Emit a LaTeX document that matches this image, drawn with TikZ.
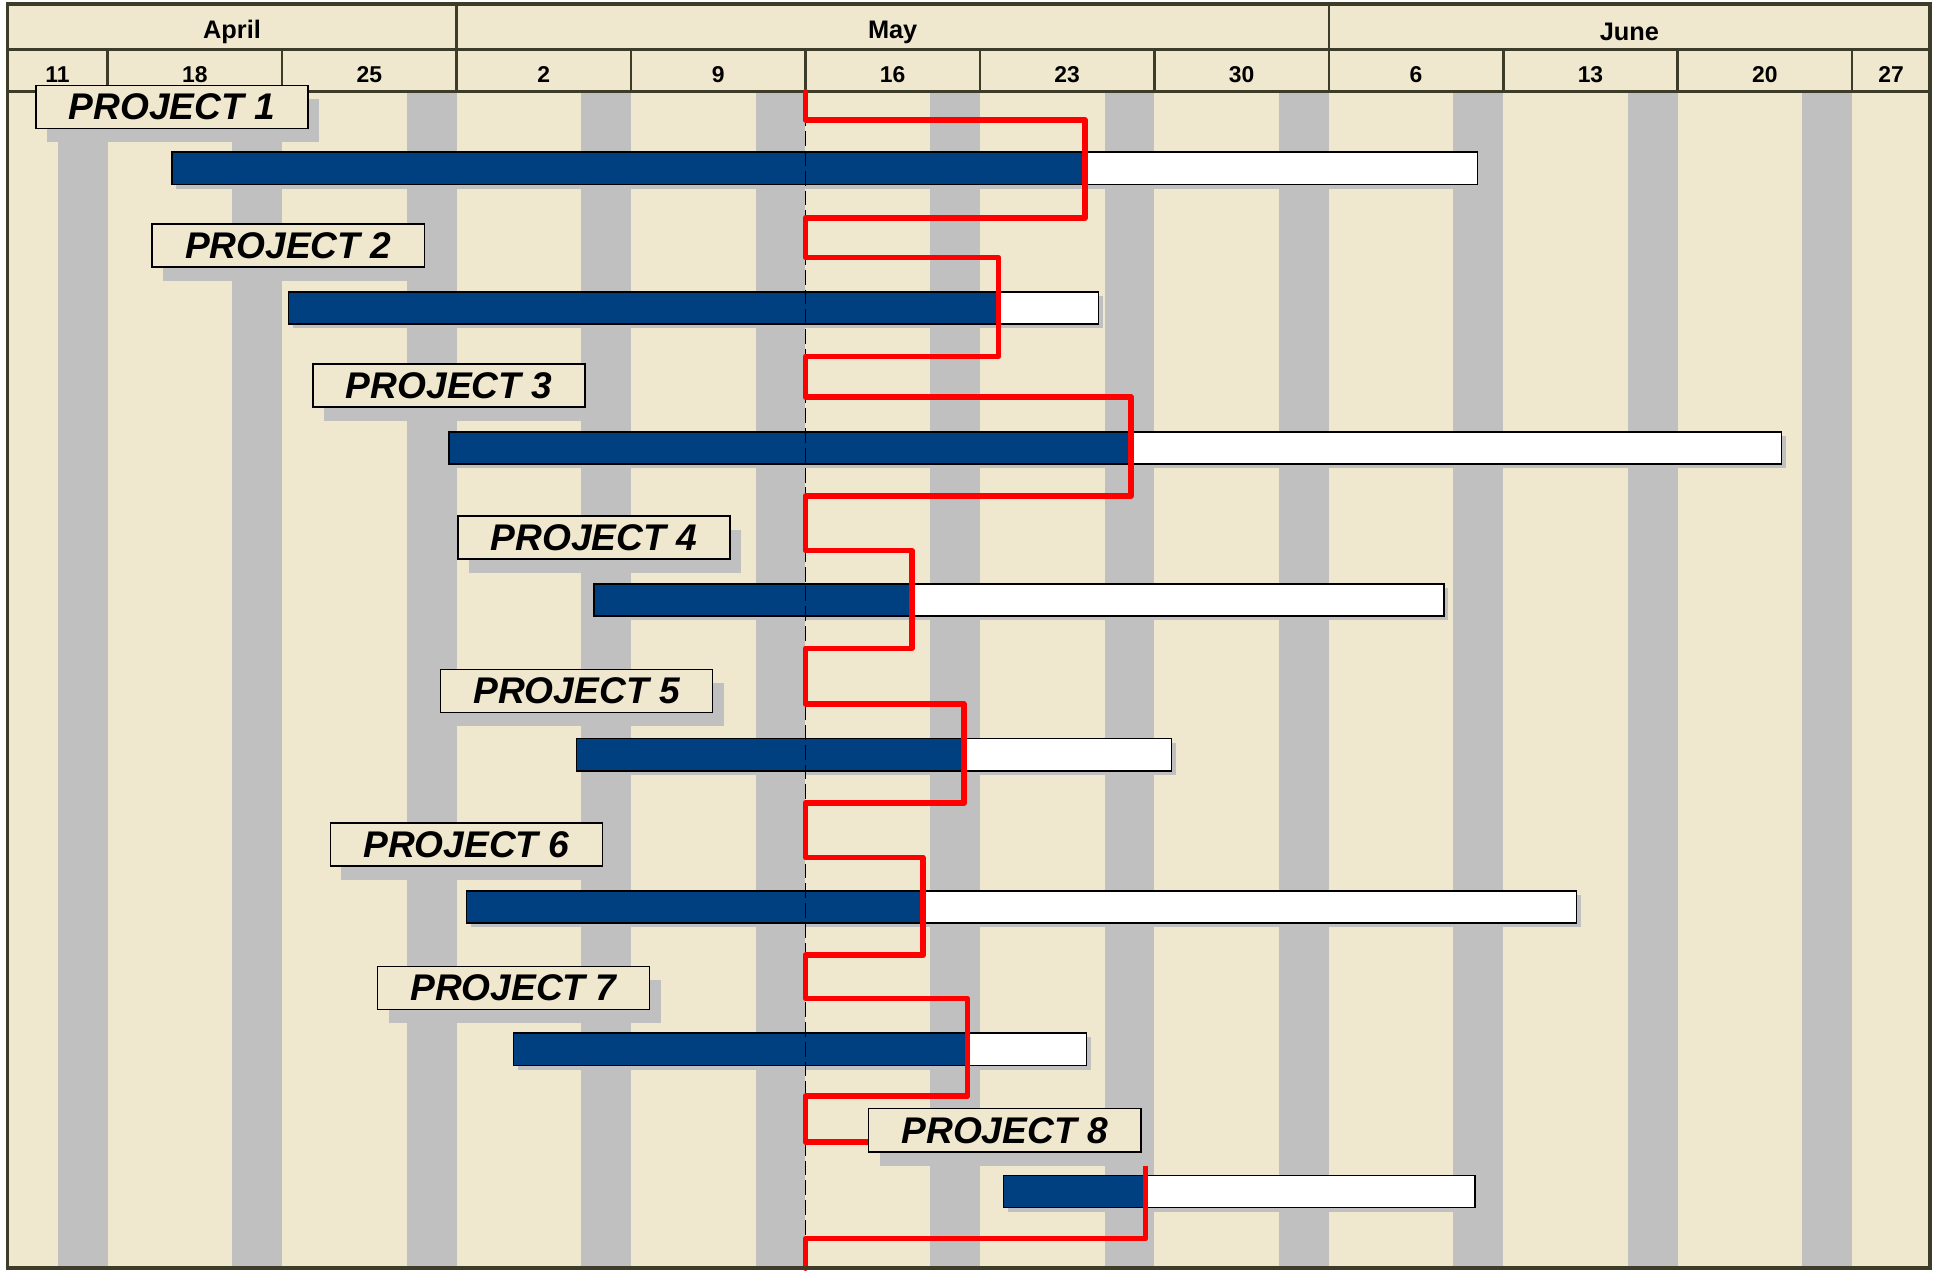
\documentclass[tikz,border=0pt]{standalone}
\usepackage{fontspec}
\setmainfont{Liberation Sans}
\usetikzlibrary{shadows}
\definecolor{bgcream}{RGB}{240,232,206}
\definecolor{stripegray}{RGB}{192,192,192}
\definecolor{barblue}{RGB}{0,64,128}
\definecolor{framecol}{RGB}{60,60,40}
\definecolor{progred}{RGB}{255,0,0}
\begin{document}
\begin{tikzpicture}[x=1pt,y=-1pt,
  gridline/.style={draw=framecol, line width=2pt},
  monthtext/.style={font=\fontsize{20.5}{20.5}\selectfont\bfseries, inner sep=0pt},
  weektext/.style={font=\fontsize{18.5}{18.5}\selectfont\bfseries, inner sep=0pt},
  stripe/.style={fill=stripegray},
  labelbox/.style={draw=black, line width=1.3pt, fill=bgcream, minimum width=220pt,
    minimum height=35pt, inner sep=0pt, outer sep=0pt, anchor=north west,
    font=\fontsize{30}{30}\selectfont\bfseries\itshape,
    drop shadow={shadow xshift=9pt, shadow yshift=-11pt, fill=stripegray, opacity=1}},
  barbase/.style={draw=black, line width=1.2pt, minimum height=26pt, inner sep=0pt,
    outer sep=0pt, anchor=north west,
    drop shadow={shadow xshift=3.5pt, shadow yshift=-3.5pt, fill=stripegray, opacity=1}},
  donebar/.style={barbase, fill=barblue},
  restbar/.style={barbase, fill=white},
  todayline/.style={draw=black, line width=1.2pt, dash pattern=on 12pt off 4pt},
  progline/.style={draw=progred, line width=4.5pt, line join=round, line cap=round},
  frameline/.style={draw=framecol, line width=3pt}
]
\useasboundingbox (0,0) rectangle (1568,1026.5);
\fill[white] (0,0) rectangle (1568,1026.5);
% background
\fill[bgcream] (6,3) rectangle (1560,1025);
% weekend stripes
\foreach \k in {0,...,10}{
  \fill[stripe] ({87+141*\k-40.3},74) rectangle ({87+141*\k},1025);
}
% header grid
\draw[gridline] (6,40) -- (1560,40);
\draw[gridline] (6,74) -- (1560,74);
\draw[gridline] (369,3) -- (369,40);
\draw[gridline] (1074,3) -- (1074,40);
\foreach \k in {0,...,10}{
  \draw[gridline] ({87+141*\k},40) -- ({87+141*\k},74);
}
% month names
\node[monthtext] (mapr) at (187.5,26) {April};
\node[monthtext] (mmay) at (721.5,26) {May};
\node[monthtext] (mjun) at (1317,26) {June};
% week numbers
\foreach \w/\x in {11/46.5,18/157.5,25/298.5,2/439.5,9/580.5,16/721.5,23/862.5,30/1003.5,6/1144.5,13/1285.5,20/1426.5,27/1528.5}{
  \node[weektext] (wk\w) at (\x,60.5) {\w};
}
% bars
\foreach \i/\bx/\bp/\be/\by in {1/139/877/1194/123, 2/233/807/888/236, 3/363/914/1440/349,
  4/480/737/1167/472, 5/466/779/947/597, 6/377/746/1274/720, 7/415/782/878/835, 8/811/926/1192/950}{
  \node[donebar, minimum width={(\bp-\bx)*1pt}] (done\i) at (\bx,\by) {};
  \node[restbar, minimum width={(\be-\bp)*1pt}] (rest\i) at (\bp,\by) {};
}
% today line
\coordinate (todaytop) at (651,74);
\coordinate (todaybot) at (651,1025);
\draw[todayline] (todaytop) -- (todaybot);
% progress line
\draw[progline] (todaytop)
  \foreach \i/\a/\b in {1/97/176, 2/208/288, 3/321/401, 4/445/524, 5/569/649, 6/693/772, 7/807/886, 8/923/1001}{
    -- (651,\a) -- (done\i.east |- 0,\a) -- (done\i.east |- 0,\b) -- (651,\b)
  } -- (todaybot);
% project labels
\foreach \i/\lx/\ly in {1/29/69, 2/123/181, 3/253/294, 4/370/417, 5/356/541, 6/267/665, 7/305/781, 8/702/896}{
  \node[labelbox] (label\i) at (\lx,\ly) {PROJECT \i};
}
% frame
\draw[frameline] (6,3) rectangle (1560,1025);
\end{tikzpicture}
\end{document}
